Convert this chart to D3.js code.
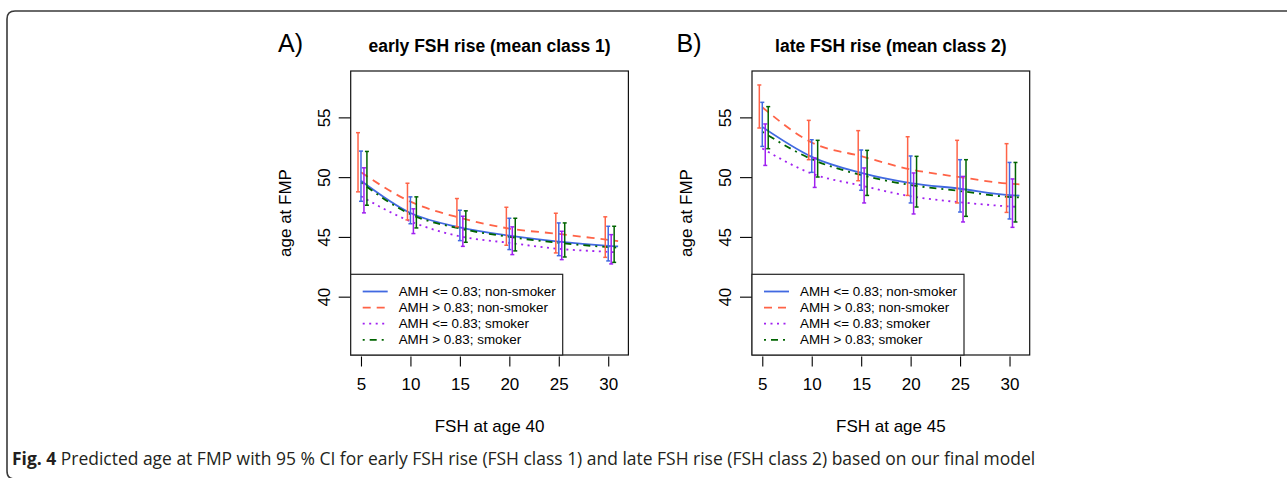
<!DOCTYPE html>
<html lang="en">
<head>
<meta charset="UTF-8">
<title>Predicted age at FMP</title>
<script src="https://d3js.org/d3.v7.min.js"></script>
<style>
  body { margin: 0; background: #fff; }
  svg { display: block; }
  .axis text { font-family: "Liberation Sans", Arial, Helvetica, sans-serif; font-size: 17px; fill: #000; }
  .axis line { stroke: #000; stroke-width: 1.1; }
</style>
</head>
<body>
<div id="chart"></div>
<script>
// ---- data ----
const fsh = [5, 10, 15, 20, 25, 30];
const lineFsh = [5, 10, 15, 20, 25, 30, 31];
const xTicks = [5, 10, 15, 20, 25, 30];
const yTicks = [40, 45, 50, 55];
const seriesNames = ["AMH <= 0.83; non-smoker", "AMH > 0.83; non-smoker", "AMH <= 0.83; smoker", "AMH > 0.83; smoker"];
const seriesColors = ["#4169e1", "#ff6347", "#a020f0", "#006400"];
const seriesDash = [null, "8,6", "2,4.5", "2,5,7,5"];
const barOffsets = [0, -0.3, 0.3, 0.6];

// panel A: early FSH rise (class 1)
const earlyLowNonMean  = [49.7, 47.0, 45.8, 45.1, 44.6, 44.25, 44.2];
const earlyHighNonMean = [50.4, 47.95, 46.6, 45.7, 45.25, 44.75, 44.65];
const earlyLowSmkMean  = [48.4, 46.3, 45.05, 44.5, 44.0, 43.75, 43.7];
const earlyHighSmkMean = [49.55, 46.9, 45.7, 45.0, 44.5, 44.15, 44.1];
const earlyLowNonLo  = [47.98, 46.1, 44.69, 43.94, 43.43, 42.99];
const earlyLowNonHi  = [52.18, 48.35, 47.23, 46.56, 46.17, 45.89];
const earlyHighNonLo = [48.77, 46.42, 45.85, 44.3, 43.66, 43.29];
const earlyHighNonHi = [53.72, 49.49, 48.21, 47.48, 46.98, 46.68];
const earlyLowSmkLo  = [47.01, 45.28, 44.21, 43.52, 43.1, 42.74];
const earlyLowSmkHi  = [50.78, 47.35, 46.73, 45.84, 45.47, 45.19];
const earlyHighSmkLo = [47.65, 45.75, 44.55, 43.83, 43.32, 42.87];
const earlyHighSmkHi = [52.15, 48.35, 47.18, 46.56, 46.17, 45.89];

// panel B: late FSH rise (class 2)
const lateLowNonMean  = [54.2, 51.7, 50.35, 49.5, 49.03, 48.5, 48.45];
const lateHighNonMean = [55.85, 52.9, 51.75, 50.65, 50.0, 49.45, 49.4];
const lateLowSmkMean  = [52.4, 50.3, 49.3, 48.4, 47.9, 47.55, 47.5];
const lateHighSmkMean = [53.8, 51.5, 50.18, 49.34, 48.84, 48.34, 48.3];
const lateLowNonLo  = [52.57, 50.4, 48.9, 47.84, 47.08, 46.5];
const lateLowNonHi  = [56.26, 53.13, 52.27, 51.77, 51.46, 51.23];
const lateHighNonLo = [54.11, 51.46, 49.7, 48.47, 47.84, 47.05];
const lateHighNonHi = [57.71, 54.75, 53.89, 53.38, 53.08, 52.8];
const lateLowSmkLo  = [50.98, 49.14, 47.84, 46.92, 46.25, 45.8];
const lateLowSmkHi  = [54.45, 51.6, 50.77, 50.35, 50.06, 49.85];
const lateHighSmkLo = [52.38, 50.01, 48.47, 47.5, 46.72, 46.25];
const lateHighSmkHi = [55.9, 53.08, 52.24, 51.74, 51.46, 51.23];

const panels = [
  { letter: "A)", title: "early FSH rise (mean class 1)", xlab: "FSH at age 40", left: 350.7, letterX: 278,
    means: [earlyLowNonMean, earlyHighNonMean, earlyLowSmkMean, earlyHighSmkMean],
    lo: [earlyLowNonLo, earlyHighNonLo, earlyLowSmkLo, earlyHighSmkLo],
    hi: [earlyLowNonHi, earlyHighNonHi, earlyLowSmkHi, earlyHighSmkHi] },
  { letter: "B)", title: "late FSH rise (mean class 2)", xlab: "FSH at age 45", left: 752, letterX: 676.5,
    means: [lateLowNonMean, lateHighNonMean, lateLowSmkMean, lateHighSmkMean],
    lo: [lateLowNonLo, lateHighNonLo, lateLowSmkLo, lateHighSmkLo],
    hi: [lateLowNonHi, lateHighNonHi, lateLowSmkHi, lateHighSmkHi] }
];

const width = 1287, height = 478;
const plotW = 277.7, plotTop = 71, plotBottom = 355;
const font = '"Liberation Sans", Arial, Helvetica, sans-serif';

const svg = d3.select("#chart").append("svg")
  .attr("width", width)
  .attr("height", height);

// outer frame (open on the right, bottom edge falls just off the picture)
const r = 8, fx = 7, fTop = 11, fBot = 479;
svg.append("path")
  .attr("d", `M${width},${fTop} H${fx + r} Q${fx},${fTop} ${fx},${fTop + r} V${fBot - r} Q${fx},${fBot} ${fx + r},${fBot} H${width}`)
  .attr("fill", "none")
  .attr("stroke", "#3a3a3a")
  .attr("stroke-width", 1.6);

panels.forEach(p => {
  const x = d3.scaleLinear().domain([3.96, 32.04]).range([p.left, p.left + plotW]);
  const y = d3.scaleLinear().domain([35.12, 58.88]).range([plotBottom, plotTop]);
  const g = svg.append("g");

  // panel letter + title
  g.append("text")
    .attr("x", p.letterX).attr("y", 52)
    .style("font-family", font).style("font-size", "25px")
    .text(p.letter);
  g.append("text")
    .attr("x", p.left + plotW / 2).attr("y", 51.5)
    .attr("text-anchor", "middle")
    .style("font-family", font).style("font-size", "17.5px").style("font-weight", "bold")
    .text(p.title);

  // axes
  const xAxis = g.append("g")
    .attr("class", "axis")
    .attr("transform", `translate(0,${plotBottom + 1.5})`)
    .call(d3.axisBottom(x).tickValues(xTicks).tickSize(10).tickSizeOuter(0));
  xAxis.select(".domain").remove();
  xAxis.selectAll("text").attr("y", 33.5).attr("dy", 0);

  const yAxis = g.append("g")
    .attr("class", "axis")
    .attr("transform", `translate(${p.left},0)`)
    .call(d3.axisLeft(y).tickValues(yTicks).tickSize(12).tickSizeOuter(0));
  yAxis.select(".domain").remove();
  yAxis.selectAll("text")
    .attr("x", 0).attr("y", -21).attr("dy", 0)
    .attr("text-anchor", "middle")
    .attr("transform", "rotate(-90)");

  g.append("text")
    .attr("x", p.left + plotW / 2).attr("y", 432)
    .attr("text-anchor", "middle")
    .style("font-family", font).style("font-size", "17px")
    .text(p.xlab);
  g.append("text")
    .attr("transform", `translate(${p.left - 60},${(plotTop + plotBottom) / 2}) rotate(-90)`)
    .attr("text-anchor", "middle")
    .style("font-family", font).style("font-size", "17px")
    .text("age at FMP");

  // curves
  const line = d3.line()
    .x((d, i) => x(lineFsh[i]))
    .y(d => y(d))
    .curve(d3.curveMonotoneX);
  p.means.forEach((m, s) => {
    g.append("path")
      .attr("d", line(m))
      .attr("fill", "none")
      .attr("stroke", seriesColors[s])
      .attr("stroke-width", 1.8)
      .attr("stroke-dasharray", seriesDash[s]);
  });

  // 95% CI bars
  const barOrder = [1, 0, 2, 3];
  barOrder.forEach(s => {
    fsh.forEach((f, i) => {
      const bx = x(f + barOffsets[s]);
      const y0 = y(p.lo[s][i]), y1 = y(p.hi[s][i]);
      const bg = g.append("g").attr("stroke", seriesColors[s]).attr("stroke-width", 1.5);
      bg.append("line").attr("x1", bx).attr("x2", bx).attr("y1", y0).attr("y2", y1);
      bg.append("line").attr("x1", bx - 2).attr("x2", bx + 2).attr("y1", y0).attr("y2", y0);
      bg.append("line").attr("x1", bx - 2).attr("x2", bx + 2).attr("y1", y1).attr("y2", y1);
    });
  });

  // plot box
  g.append("rect")
    .attr("x", p.left).attr("y", plotTop)
    .attr("width", plotW).attr("height", plotBottom - plotTop)
    .attr("fill", "none").attr("stroke", "#111").attr("stroke-width", 1.2);

  // legend
  const lgTop = 274.3, lgW = 212;
  const lg = g.append("g");
  lg.append("rect")
    .attr("x", p.left).attr("y", lgTop)
    .attr("width", lgW).attr("height", plotBottom - lgTop)
    .attr("fill", "#fff").attr("stroke", "#222").attr("stroke-width", 1.2);
  seriesNames.forEach((name, s) => {
    const base = 296 + s * 16.1;
    lg.append("line")
      .attr("x1", p.left + 12).attr("x2", p.left + 37)
      .attr("y1", base - 4.5).attr("y2", base - 4.5)
      .attr("stroke", seriesColors[s]).attr("stroke-width", 1.8)
      .attr("stroke-dasharray", seriesDash[s]);
    lg.append("text")
      .attr("x", p.left + 48).attr("y", base)
      .style("font-family", font).style("font-size", "13.4px")
      .text(name);
  });
});

// caption
const cap = svg.append("text")
  .attr("x", 12).attr("y", 465)
  .style("font-family", '"Open Sans", "Noto Sans", sans-serif')
  .style("font-size", "15px")
  .attr("fill", "#231f20");
cap.append("tspan").style("font-weight", "bold").text("Fig. 4");
cap.append("tspan").text(" Predicted age at FMP with 95 % CI for early FSH rise (FSH class 1) and late FSH rise (FSH class 2) based on our final model");
const capLen = cap.node().getComputedTextLength();
cap.style("font-size", (15 * (1036 - 12) / capLen) + "px");
</script>
</body>
</html>
